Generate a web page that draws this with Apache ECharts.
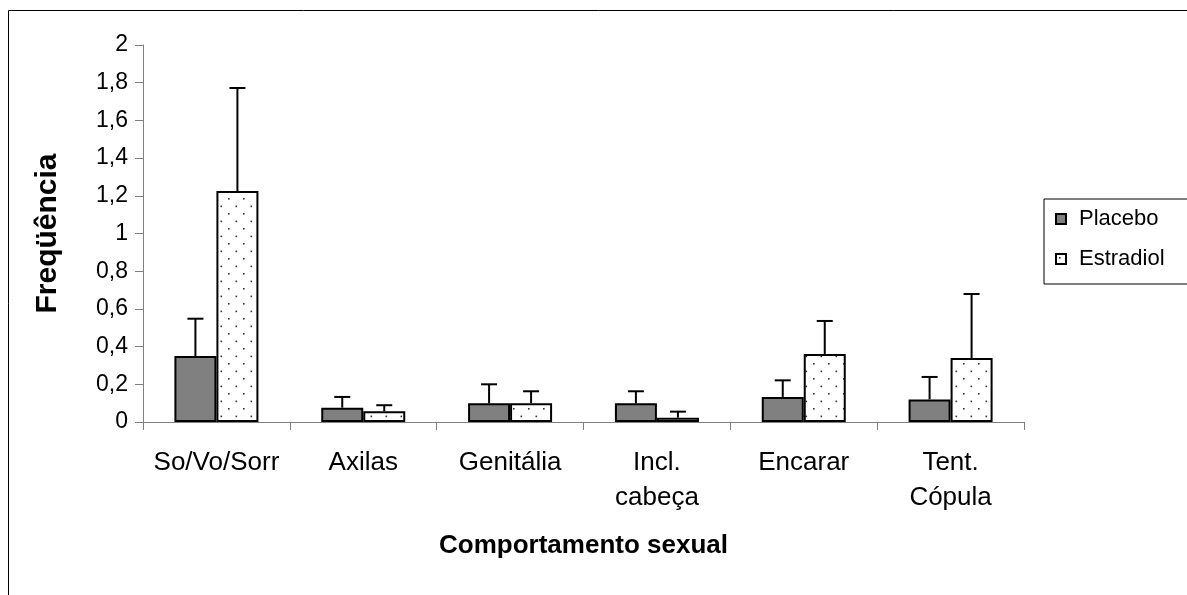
<!DOCTYPE html>
<html>
<head>
<meta charset="utf-8">
<script src="https://cdn.jsdelivr.net/npm/echarts@6/dist/echarts.min.js"></script>
<style>
  html, body { margin: 0; padding: 0; background: #fff; }
  #main { width: 1187px; height: 595px; }
</style>
</head>
<body>
<div id="main"></div>
<script>
// data
const categories = ['So/Vo/Sorr', 'Axilas', 'Genitália', 'Incl.\ncabeça', 'Encarar', 'Tent.\nCópula'];
const placebo = [0.35, 0.076, 0.099, 0.099, 0.133, 0.12];
const placeboErr = [0.198, 0.057, 0.101, 0.064, 0.088, 0.119];
const estradiol = [1.225, 0.057, 0.099, 0.023, 0.361, 0.34];
const estradiolErr = [0.547, 0.032, 0.064, 0.032, 0.175, 0.339];
const yTicks = [0, 2, 0.2]; // min, max, step

const FONT = 'Liberation Sans';
const BAR_W = 42;

// dotted fill for Estradiol
const makeDots = () => {
  const c = document.createElement('canvas');
  c.width = 15; c.height = 15;
  const ctx = c.getContext('2d');
  ctx.fillStyle = '#fff';
  ctx.fillRect(0, 0, 15, 15);
  ctx.fillStyle = '#333';
  ctx.fillRect(3, 3, 1.6, 1.6);
  ctx.fillRect(10.5, 10.6, 1.6, 1.6);
  return c;
};
const dots = makeDots();

const errData = (vals, errs, offset) =>
  vals.map((v, i) => [i, v, errs[i], offset]);

const renderErr = (params, api) => {
  const x0 = api.coord([api.value(0), api.value(1)]);
  const x1 = api.coord([api.value(0), api.value(1) + api.value(2)]);
  const x = x0[0] + api.value(3);
  const half = 8;
  const style = { stroke: '#000', lineWidth: 2 };
  return {
    type: 'group',
    children: [
      { type: 'line', shape: { x1: x, y1: x0[1], x2: x, y2: x1[1] }, style },
      { type: 'line', shape: { x1: x - half, y1: x1[1], x2: x + half, y2: x1[1] }, style }
    ]
  };
};

const fmt = v => String(Math.round(v * 10) / 10).replace('.', ',');

const chart = echarts.init(document.getElementById('main'));
const option = {
  animation: false,
  backgroundColor: '#fff',
  textStyle: { fontFamily: FONT, color: '#000' },
  graphic: [
    {
      type: 'rect',
      shape: { x: 8.5, y: 10.5, width: 1200, height: 600 },
      style: { fill: 'none', stroke: '#000', lineWidth: 1 },
      silent: true
    }
  ],
  grid: { left: 143, right: 163, top: 45, bottom: 173, containLabel: false, outerBoundsMode: 'none' },
  legend: {
    orient: 'vertical',
    left: 1044,
    top: 199,
    padding: [9, 40, 14, 11],
    itemGap: 18,
    itemWidth: 10,
    itemHeight: 10,
    icon: 'rect',
    borderColor: '#000',
    borderWidth: 1,
    backgroundColor: '#fff',
    textStyle: { fontFamily: FONT, fontSize: 22, color: '#000', padding: [0, 0, 0, 8] },
    data: ['Placebo', 'Estradiol']
  },
  xAxis: {
    type: 'category',
    data: categories,
    name: 'Comportamento sexual',
    nameLocation: 'middle',
    nameGap: 111,
    nameTextStyle: { fontFamily: FONT, fontSize: 26, fontWeight: 'bold', color: '#000' },
    axisLine: { lineStyle: { color: '#808080', width: 1 } },
    axisTick: { show: true, length: 8, alignWithLabel: false, lineStyle: { color: '#808080' } },
    axisLabel: { fontFamily: FONT, fontSize: 26, color: '#000', margin: 23, lineHeight: 35, interval: 0 }
  },
  yAxis: {
    type: 'value',
    min: yTicks[0],
    max: yTicks[1],
    interval: yTicks[2],
    name: 'Freqüência',
    nameLocation: 'middle',
    nameGap: 80,
    nameTextStyle: { fontFamily: FONT, fontSize: 30, fontWeight: 'bold', color: '#000' },
    axisLine: { show: true, lineStyle: { color: '#808080', width: 1 } },
    axisTick: { show: true, length: 8, lineStyle: { color: '#808080' } },
    splitLine: { show: false },
    axisLabel: { fontFamily: FONT, fontSize: 23, color: '#000', margin: 15, formatter: fmt }
  },
  series: [
    {
      name: 'Placebo',
      type: 'bar',
      data: placebo,
      barWidth: BAR_W,
      barGap: '0%',
      itemStyle: { color: '#808080', borderColor: '#000', borderWidth: 2 }
    },
    {
      name: 'Estradiol',
      type: 'bar',
      data: estradiol,
      barWidth: BAR_W,
      barGap: '0%',
      itemStyle: { color: { image: dots, repeat: 'repeat' }, borderColor: '#000', borderWidth: 2 }
    },
    {
      type: 'custom',
      renderItem: renderErr,
      data: errData(placebo, placeboErr, -BAR_W / 2),
      z: 3,
      silent: true
    },
    {
      type: 'custom',
      renderItem: renderErr,
      data: errData(estradiol, estradiolErr, BAR_W / 2),
      z: 3,
      silent: true
    }
  ]
};
chart.setOption(option);
</script>
</body>
</html>
